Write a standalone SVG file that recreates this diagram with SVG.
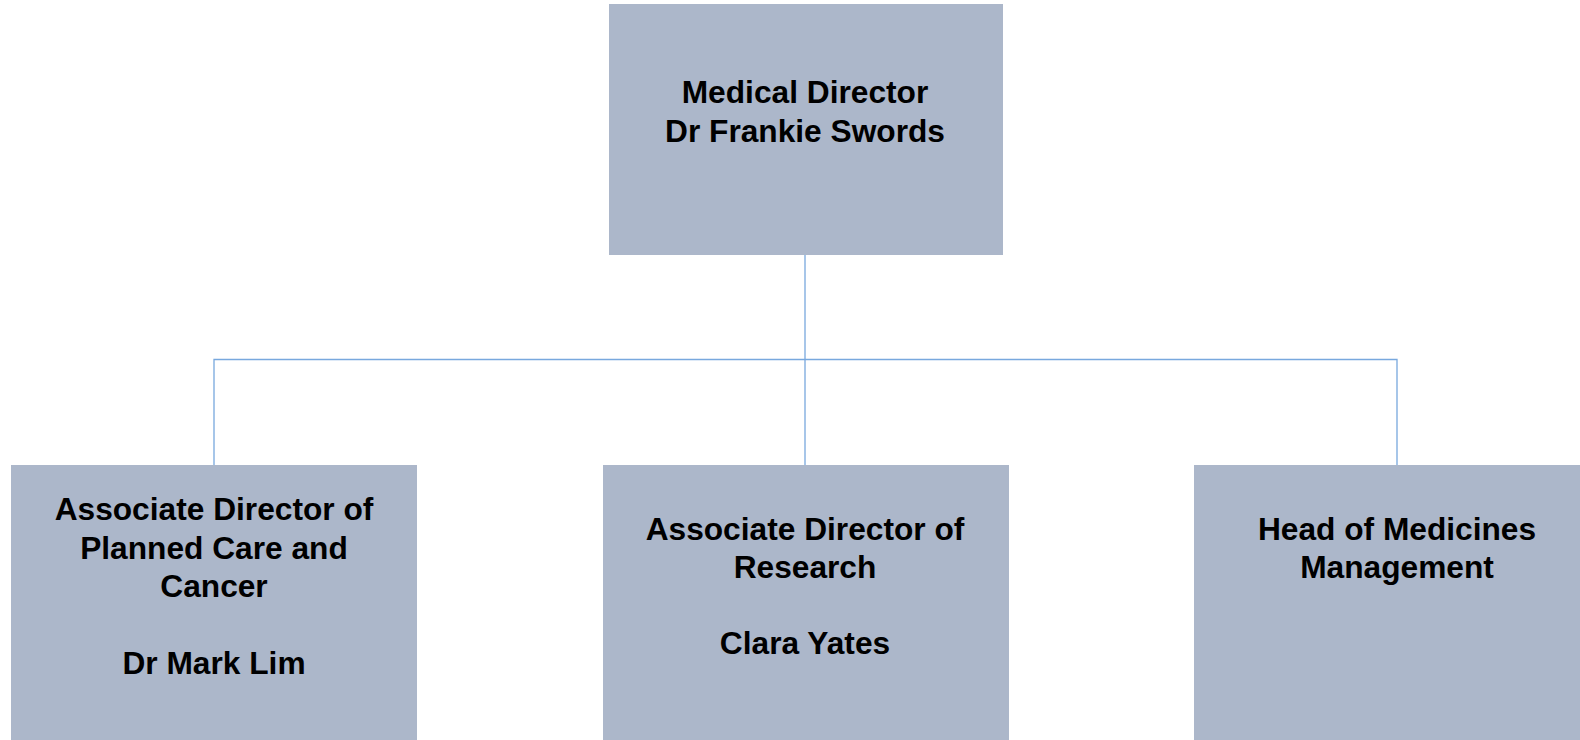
<svg xmlns="http://www.w3.org/2000/svg" width="1580" height="740" viewBox="0 0 1580 740">
<style>
.box{fill:#ACB7CA;}
.lbl{font-family:"Liberation Sans",Arial,sans-serif;font-weight:bold;font-size:31.7px;fill:#000;text-anchor:middle;}
.conn{stroke:#78A8DE;stroke-width:1.3;fill:none;}
</style>
<rect width="1580" height="740" fill="#fff"/>
<g id="connectors">
<path class="conn" d="M805 255 V465"/>
<path class="conn" d="M214 465 V359.5 H1397 V465"/>
</g>
<g id="node-medical-director">
<rect class="box" x="609" y="4" width="394" height="251"/>
<text class="lbl" x="805" y="103">Medical Director</text>
<text class="lbl" x="805" y="142">Dr Frankie Swords</text>
</g>
<g id="node-planned-care">
<rect class="box" x="11" y="465" width="406" height="275"/>
<text class="lbl" x="214" y="520">Associate Director of</text>
<text class="lbl" x="214" y="558.5">Planned Care and</text>
<text class="lbl" x="214" y="597">Cancer</text>
<text class="lbl" x="214" y="673.5">Dr Mark Lim</text>
</g>
<g id="node-research">
<rect class="box" x="603" y="465" width="406" height="275"/>
<text class="lbl" x="805" y="540">Associate Director of</text>
<text class="lbl" x="805" y="578">Research</text>
<text class="lbl" x="805" y="654">Clara Yates</text>
</g>
<g id="node-medicines">
<rect class="box" x="1194" y="465" width="386" height="275"/>
<text class="lbl" x="1397" y="540">Head of Medicines</text>
<text class="lbl" x="1397" y="578">Management</text>
</g>
</svg>
